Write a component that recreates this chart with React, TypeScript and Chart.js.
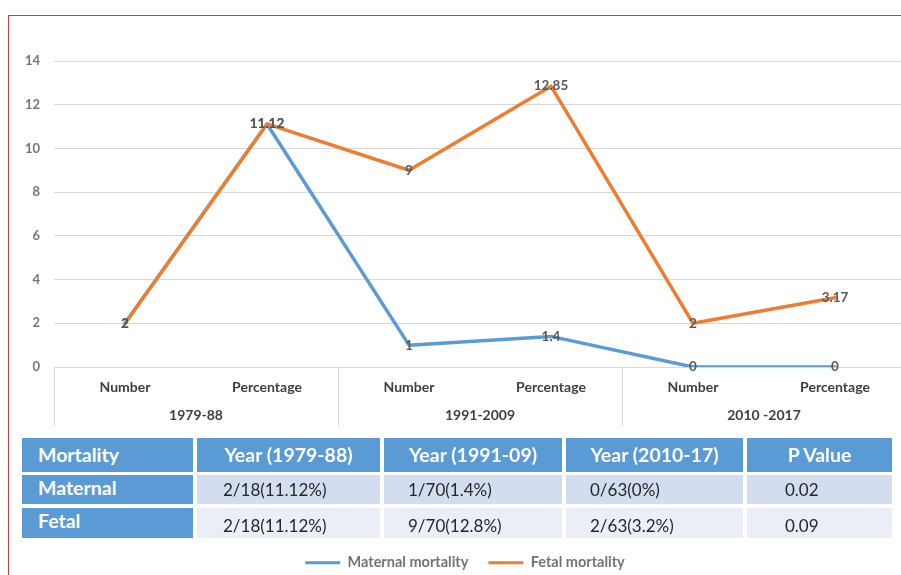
import React, { useEffect, useRef } from "react";
import { Chart, registerables } from "chart.js";

Chart.register(...registerables);

// ---------- data ----------
const categories = ["Number", "Percentage", "Number", "Percentage", "Number", "Percentage"];
const periods = ["1979-88", "1991-2009", "2010 -2017"];
const maternalMortality = [2, 11.12, 1, 1.4, 0, 0];
const fetalMortality = [2, 11.12, 9, 12.85, 2, 3.17];
const yTickValues = [0, 2, 4, 6, 8, 10, 12, 14];

const tableHeader = ["Mortality", "Year (1979-88)", "Year (1991-09)", "Year (2010-17)", "P Value"];
const maternalRow = ["Maternal", "2/18(11.12%)", "1/70(1.4%)", "0/63(0%)", "0.02"];
const fetalRow = ["Fetal", "2/18(11.12%)", "9/70(12.8%)", "2/63(3.2%)", "0.09"];

// ---------- layout / style ----------
const FONT = "Lato, 'Open Sans', sans-serif";
const BLUE = "#5b9bd5";
const ORANGE = "#ed7d31";
const GRID = "#d9d9d9";

const colBoxes = [
  { left: 22, width: 171, pad: 16 },
  { left: 197, width: 183, pad: 26 },
  { left: 384, width: 178, pad: 24 },
  { left: 566, width: 177, pad: 24 },
  { left: 747, width: 145, pad: 38 },
];
const rowBoxes = [
  { top: 438, height: 34, bg: BLUE, shift: 0 },
  { top: 475, height: 29, bg: "#d2deef", shift: 0 },
  { top: 508, height: 30, bg: "#eaeff7", shift: 2 },
];

const annotatePlugin = {
  id: "annotate",
  afterLayout(chart: any) {
    const lg = chart.legend;
    if (lg) {
      lg.left += 12;
      lg.right += 12;
    }
  },
  afterDatasetsDraw(chart: any) {
    const ctx = chart.ctx;
    ctx.save();
    ctx.font = `bold 13.5px ${FONT}`;
    ctx.fillStyle = "#595959";
    ctx.textAlign = "center";
    ctx.textBaseline = "middle";
    chart.data.datasets.forEach((ds: any, di: number) => {
      const meta = chart.getDatasetMeta(di);
      meta.data.forEach((el: any, i: number) => {
        ctx.fillText(String(ds.data[i]), el.x, el.y);
      });
    });
    ctx.restore();
  },
  afterDraw(chart: any) {
    const ctx = chart.ctx;
    const xs = chart.scales.x;
    const bottom = chart.chartArea.bottom;
    const half = (xs.getPixelForValue(1) - xs.getPixelForValue(0)) / 2;
    ctx.save();
    ctx.strokeStyle = GRID;
    ctx.lineWidth = 1;
    for (let g = 0; g <= periods.length; g++) {
      const idx = Math.min(g * 2, categories.length - 1);
      const x = g * 2 < categories.length ? xs.getPixelForValue(idx) - half : xs.getPixelForValue(idx) + half;
      const px = Math.round(x) + 0.5;
      ctx.beginPath();
      ctx.moveTo(px, bottom);
      ctx.lineTo(px, bottom + 59);
      ctx.stroke();
    }
    ctx.font = `bold 14px ${FONT}`;
    ctx.fillStyle = "#404040";
    ctx.textAlign = "center";
    ctx.textBaseline = "middle";
    periods.forEach((p, g) => {
      const cx = (xs.getPixelForValue(g * 2) + xs.getPixelForValue(g * 2 + 1)) / 2;
      ctx.fillText(p, cx, bottom + 48);
    });
    ctx.restore();
  },
};

export default function App() {
  const canvasRef = useRef<HTMLCanvasElement | null>(null);

  useEffect(() => {
    if (!canvasRef.current) return;
    const chart = new Chart(canvasRef.current, {
      type: "line",
      data: {
        labels: categories,
        datasets: [
          {
            label: "Maternal mortality",
            data: maternalMortality,
            borderColor: BLUE,
            backgroundColor: BLUE,
            borderWidth: 3.5,
            borderJoinStyle: "round",
            borderCapStyle: "round",
            pointRadius: 0,
            tension: 0,
            order: 1,
          },
          {
            label: "Fetal mortality",
            data: fetalMortality,
            borderColor: ORANGE,
            backgroundColor: ORANGE,
            borderWidth: 3.5,
            borderJoinStyle: "round",
            borderCapStyle: "round",
            pointRadius: 0,
            tension: 0,
            order: 0,
          },
        ],
      },
      options: {
        animation: false,
        responsive: false,
        devicePixelRatio: 1,
        layout: { padding: { top: 61, left: 0, right: 0, bottom: 0 } },
        plugins: {
          tooltip: { enabled: false },
          legend: {
            position: "bottom",
            labels: {
              boxWidth: 35,
              boxHeight: 3,
              padding: 20,
              color: "#737373",
              font: { family: FONT, size: 14.5, weight: "bold" },
              sort: (a: any, b: any) => a.datasetIndex - b.datasetIndex,
              generateLabels: (ch: any) =>
                (Chart.defaults.plugins.legend.labels.generateLabels as any)(ch).map((l: any) => ({
                  ...l,
                  lineWidth: 0,
                })),
            },
          },
        },
        scales: {
          x: {
            type: "category",
            offset: true,
            grid: { display: false, drawTicks: false },
            border: { display: false },
            ticks: {
              color: "#404040",
              font: { family: FONT, size: 14, weight: "bold" },
              padding: 12,
              maxRotation: 0,
              autoSkip: false,
            },
            afterFit: (s: any) => {
              s.height = 168.5;
            },
          },
          y: {
            min: 0,
            max: 14,
            afterBuildTicks: (s: any) => {
              s.ticks = yTickValues.map((v) => ({ value: v }));
            },
            grid: { color: GRID, drawTicks: false, lineWidth: 1 },
            border: { display: false },
            ticks: {
              color: "#757575",
              font: { family: FONT, size: 13, weight: "bold" },
              padding: 14,
            },
            afterFit: (s: any) => {
              s.width = 54;
            },
          },
        },
      },
      plugins: [annotatePlugin],
    });
    return () => chart.destroy();
  }, []);

  const rows = [tableHeader, maternalRow, fetalRow];

  return (
    <div
      style={{
        position: "absolute",
        left: 0,
        top: 0,
        width: 901,
        height: 575,
        overflow: "hidden",
        background: "#ffffff",
        fontFamily: FONT,
      }}
    >
      <canvas
        ref={canvasRef}
        width={906}
        height={580}
        style={{ position: "absolute", left: 0, top: 0, width: 906, height: 580 }}
      />
      {rows.map((row, ri) =>
        row.map((txt, ci) => {
          const c = colBoxes[ci];
          const r = rowBoxes[ri];
          const isHead = ri === 0;
          const isFirst = ci === 0;
          const blueCell = isHead || isFirst;
          const centered = isHead && !isFirst;
          return (
            <div
              key={`${ri}-${ci}`}
              style={{
                position: "absolute",
                left: c.left,
                top: r.top,
                width: c.width,
                height: r.height,
                background: blueCell ? BLUE : r.bg,
                color: blueCell ? "#ffffff" : "#262626",
                fontWeight: blueCell ? 700 : 400,
                fontSize: blueCell ? 19.5 : 17,
                display: "flex",
                alignItems: "center",
                justifyContent: centered ? "center" : "flex-start",
                paddingLeft: centered ? 0 : c.pad,
                paddingTop: blueCell ? 0 : r.shift * 2,
                paddingBottom: blueCell && !isHead ? 4 : 0,
                boxSizing: "border-box",
                whiteSpace: "nowrap",
                lineHeight: 1,
              }}
            >
              {txt}
            </div>
          );
        })
      )}
      <div
        style={{
          position: "absolute",
          left: 8,
          top: 15,
          width: 900,
          height: 600,
          borderTop: "1px solid #e4343b",
          borderLeft: "1px solid #e4343b",
          pointerEvents: "none",
        }}
      />
    </div>
  );
}
